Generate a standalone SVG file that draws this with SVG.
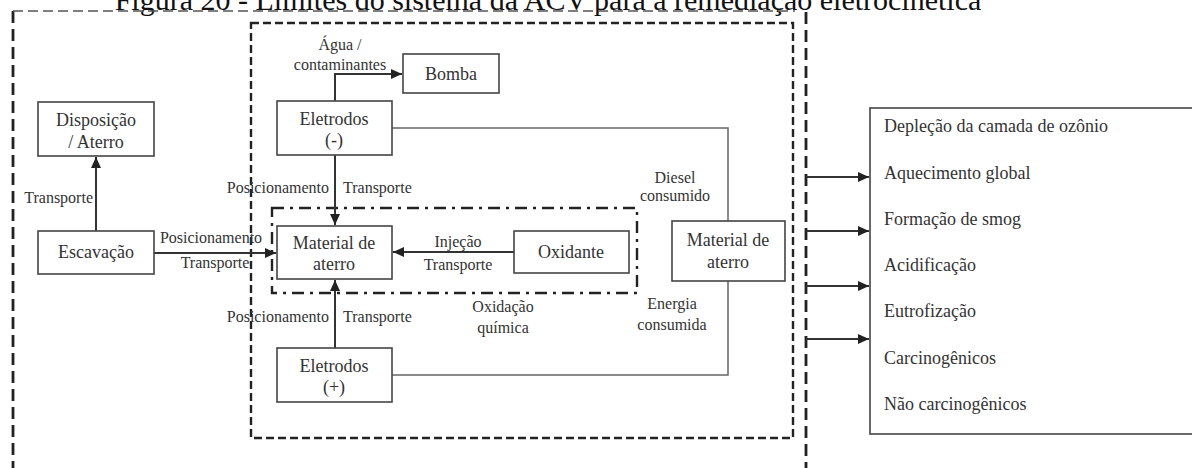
<svg xmlns="http://www.w3.org/2000/svg" width="1192" height="468" viewBox="0 0 1192 468">
<defs>
<marker id="arr" markerUnits="userSpaceOnUse" markerWidth="12" markerHeight="10" refX="11" refY="5" orient="auto"><path d="M0,0 L11,5 L0,10 z" fill="#222"/></marker>
<style>
.box{fill:#fff;stroke:#444;stroke-width:1.6}
.t{font-family:"Liberation Serif","Times New Roman",serif;font-size:18px;fill:#333;text-anchor:middle}
.l{font-family:"Liberation Serif","Times New Roman",serif;font-size:16px;fill:#333}
.m{text-anchor:middle}
.e{text-anchor:end}
.li{font-family:"Liberation Serif","Times New Roman",serif;font-size:18px;fill:#333}
.c{fill:none;stroke:#333;stroke-width:2}
.w{fill:none;stroke:#666;stroke-width:1.5}
.ov{fill:none;stroke:#222;stroke-width:2.8;stroke-dasharray:12 6}
.ot{fill:none;stroke:#555;stroke-width:1.3;stroke-dasharray:10 5}
.in{fill:none;stroke:#222;stroke-width:2.4;stroke-dasharray:8 4}
.dd{fill:none;stroke:#222;stroke-width:2.4;stroke-dasharray:12 6 3 6}
</style>
</defs>
<rect width="1192" height="468" fill="#fff"/>
<g id="title"><text x="548" y="10" font-family="Liberation Serif, Times New Roman, serif" font-size="30" fill="#111" text-anchor="middle">Figura 20 - Limites do sistema da ACV para a remediação eletrocinética</text></g>
<g id="boundary-outer">
<line class="ov" x1="13" y1="11" x2="13" y2="470"/>
<line class="ot" x1="13" y1="11" x2="795" y2="11"/>
<line class="ov" x1="806" y1="12" x2="806" y2="470"/>
</g>
<g id="boundary-inner"><rect class="in" x="251" y="23" width="542" height="415"/></g>
<g id="boundary-oxidation"><rect class="dd" x="272" y="208" width="365" height="85"/></g>
<g id="connectors">
<path class="c" d="M96,231 V157" marker-end="url(#arr)"/>
<path class="c" d="M154,253 H276" marker-end="url(#arr)"/>
<path class="c" d="M335,101 V74 H402" marker-end="url(#arr)"/>
<path class="c" d="M335,155 V225" marker-end="url(#arr)"/>
<path class="c" d="M335,348 V280" marker-end="url(#arr)"/>
<path class="c" d="M514,252 H393" marker-end="url(#arr)"/>
<path class="w" d="M392,128 H728 V221"/>
<path class="w" d="M728,281 V375 H392"/>
<path class="c" d="M806,177 H869" marker-end="url(#arr)"/>
<path class="c" d="M806,231 H869" marker-end="url(#arr)"/>
<path class="c" d="M806,286 H869" marker-end="url(#arr)"/>
<path class="c" d="M806,339 H869" marker-end="url(#arr)"/>
<text class="l e" x="93" y="203">Transporte</text>
<text class="l m" x="211" y="243">Posicionamento</text>
<text class="l m" x="215" y="268">Transporte</text>
<text class="l m" x="340" y="50">Água /</text>
<text class="l m" x="340" y="70">contaminantes</text>
<text class="l e" x="329" y="193">Posicionamento</text>
<text class="l" x="343" y="193">Transporte</text>
<text class="l e" x="329" y="322">Posicionamento</text>
<text class="l" x="343" y="322">Transporte</text>
<text class="l m" x="458" y="247">Injeção</text>
<text class="l m" x="458" y="270">Transporte</text>
<text class="l m" x="503" y="312">Oxidação</text>
<text class="l m" x="503" y="333">química</text>
<text class="l m" x="675" y="183">Diesel</text>
<text class="l m" x="675" y="201">consumido</text>
<text class="l m" x="672" y="309">Energia</text>
<text class="l m" x="672" y="330">consumida</text>
</g>
<g id="node-disposicao"><rect class="box" x="38" y="102" width="116" height="54"/><text class="t" x="96" y="126">Disposição</text><text class="t" x="96" y="148">/ Aterro</text></g>
<g id="node-escavacao"><rect class="box" x="38" y="231" width="116" height="43"/><text class="t" x="96" y="258">Escavação</text></g>
<g id="node-bomba"><rect class="box" x="403" y="54" width="96" height="39"/><text class="t" x="451" y="80">Bomba</text></g>
<g id="node-eletrodos-neg"><rect class="box" x="277" y="101" width="115" height="54"/><text class="t" x="334" y="125">Eletrodos</text><text class="t" x="334" y="146">(-)</text></g>
<g id="node-material"><rect class="box" x="277" y="226" width="115" height="53"/><text class="t" x="334" y="249">Material de</text><text class="t" x="334" y="270">aterro</text></g>
<g id="node-oxidante"><rect class="box" x="514" y="231" width="115" height="42"/><text class="t" x="571" y="258">Oxidante</text></g>
<g id="node-eletrodos-pos"><rect class="box" x="277" y="348" width="115" height="54"/><text class="t" x="334" y="372">Eletrodos</text><text class="t" x="334" y="393">(+)</text></g>
<g id="node-material-right"><rect class="box" x="672" y="221" width="113" height="60"/><text class="t" x="728" y="246">Material de</text><text class="t" x="728" y="268">aterro</text></g>
<g id="node-impactos"><rect class="box" x="870" y="108" width="330" height="326"/>
<text class="li" x="884" y="132">Depleção da camada de ozônio</text>
<text class="li" x="884" y="179">Aquecimento global</text>
<text class="li" x="884" y="225">Formação de smog</text>
<text class="li" x="884" y="271">Acidificação</text>
<text class="li" x="884" y="317">Eutrofização</text>
<text class="li" x="884" y="364">Carcinogênicos</text>
<text class="li" x="884" y="410">Não carcinogênicos</text>
</g>
</svg>
